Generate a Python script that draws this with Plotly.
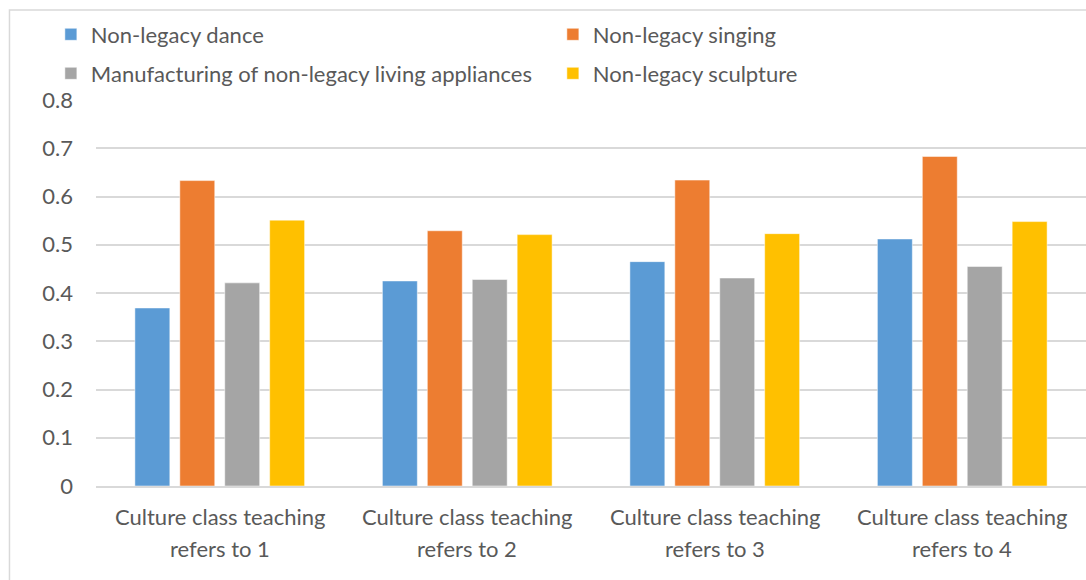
import plotly.graph_objects as go

categories = [
    "Culture class teaching refers to 1",
    "Culture class teaching refers to 2",
    "Culture class teaching refers to 3",
    "Culture class teaching refers to 4",
]
label_line1 = ["Culture class teaching"] * 4
label_line2 = ["refers to 1", "refers to 2", "refers to 3", "refers to 4"]

series_names = [
    "Non-legacy dance",
    "Non-legacy singing",
    "Manufacturing of non-legacy living appliances",
    "Non-legacy sculpture",
]
dance = [0.369, 0.425, 0.465, 0.512]
singing = [0.633, 0.529, 0.634, 0.683]
appliances = [0.421, 0.428, 0.431, 0.455]
sculpture = [0.551, 0.521, 0.523, 0.548]

colors = ["#5b9bd5", "#ed7d31", "#a5a5a5", "#ffc000"]
legends = ["legend", "legend2", "legend3", "legend4"]

FONT = "Lato"
TEXT = "#595959"
GRID = "#d9d9d9"
FS = 22

fig = go.Figure()
for name, vals, col, lg in zip(
    series_names, [dance, singing, appliances, sculpture], colors, legends
):
    fig.add_trace(
        go.Bar(
            x=categories,
            y=vals,
            name=name,
            marker=dict(color=col, line=dict(color="white", width=0.5)),
            legend=lg,
            showlegend=True,
        )
    )

# two-line category labels under the axis
for cat, l1, l2 in zip(categories, label_line1, label_line2):
    for txt, shift in [(l1, -30), (l2, -62)]:
        fig.add_annotation(
            x=cat, y=0, xref="x", yref="y", text=txt, showarrow=False,
            yanchor="middle", yshift=shift,
            font=dict(family=FONT, size=FS, color=TEXT),
        )

# outer chart frame
fig.add_shape(
    type="rect", xref="paper", yref="paper",
    x0=-0.0874, x1=1.01, y0=-0.5, y1=1.2332,
    line=dict(color="#d9d9d9", width=1.5), layer="below",
)


def legend_box(x, y):
    return dict(
        font=dict(family=FONT, size=FS, color=TEXT),
        bgcolor="rgba(0,0,0,0)",
        xref="container",
        yref="container",
        xanchor="left",
        yanchor="middle",
        x=x,
        y=y,
    )


row1 = 1 - 34.5 / 580
row2 = 1 - 73.5 / 580
col1 = 0.045 + 2 / 1086
col2 = col1 + 502 / 1086

fig.update_layout(
    width=1086,
    height=580,
    margin=dict(l=96, r=0, t=100, b=94, autoexpand=False),
    plot_bgcolor="white",
    paper_bgcolor="white",
    font=dict(family=FONT, size=FS, color=TEXT),
    showlegend=True,
    barmode="group",
    bargap=0.274,
    bargroupgap=0.222,
    legend=legend_box(col1, row1),
    legend2=legend_box(col2, row1),
    legend3=legend_box(col1, row2),
    legend4=legend_box(col2, row2),
)

fig.update_xaxes(
    showticklabels=False,
    showline=True, linecolor=GRID, linewidth=1.5,
    showgrid=False,
)
fig.update_yaxes(
    range=[0, 0.8], dtick=0.1,
    showgrid=True, gridcolor=GRID, gridwidth=1.5,
    zeroline=False, showline=False,
    ticklabelstandoff=22,
    tickfont=dict(family=FONT, size=FS, color=TEXT),
)

fig.write_html(
    "out.html",
    config={"displayModeBar": False},
    post_script="document.body.style.margin='0';",
)
